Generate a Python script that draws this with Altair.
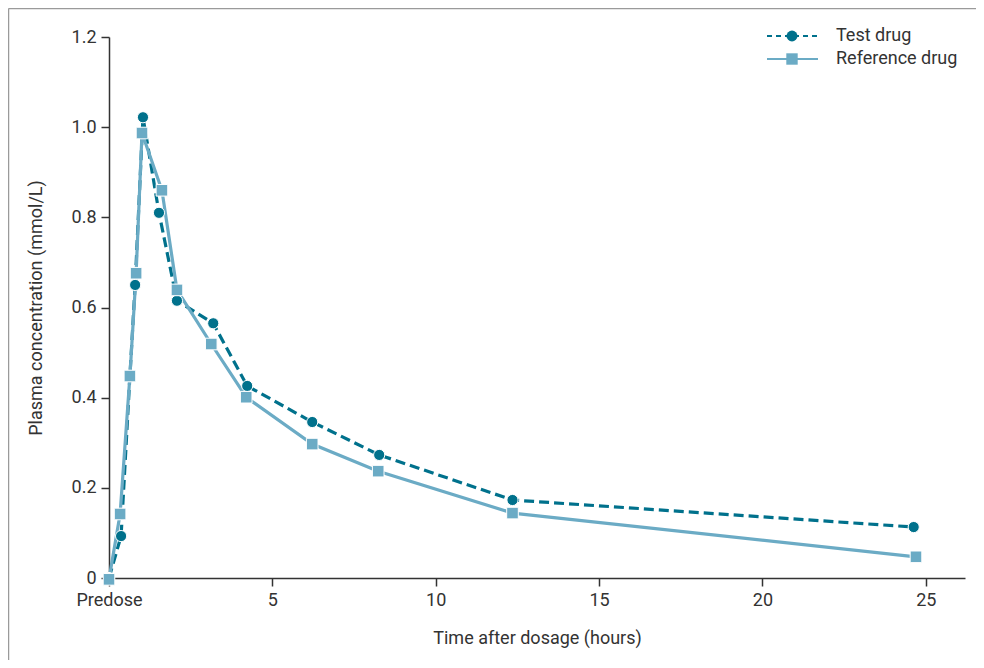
import altair as alt
import pandas as pd

# Test drug (circles, dashed)
test_time = [0.0, 0.37, 0.64, 0.80, 1.04, 1.53, 2.08, 3.19, 4.23, 6.22, 8.27, 12.35, 24.63]
test_conc = [0.0, 0.093, 0.448, 0.65, 1.022, 0.81, 0.615, 0.565, 0.426, 0.346, 0.273, 0.173, 0.113]
# Reference drug (squares, solid)
ref_time = [0.0, 0.34, 0.64, 0.83, 1.01, 1.62, 2.08, 3.13, 4.20, 6.22, 8.24, 12.35, 24.70]
ref_conc = [-0.003, 0.142, 0.448, 0.676, 0.987, 0.86, 0.639, 0.519, 0.401, 0.297, 0.237, 0.144, 0.047]

x_ticks = [0, 5, 10, 15, 20, 25]
y_ticks = [0, 0.2, 0.4, 0.6, 0.8, 1.0, 1.2]
series_names = ["Test drug", "Reference drug"]

DARK = "#00718C"
LIGHT = "#6BABC5"
TXT = "#333333"
FONT = "Roboto"
FS = 18

W, H = 856, 541
PAD_L, PAD_T, PAD_R, PAD_B = 101, 29, 11, 82

test_df = pd.DataFrame({"t": test_time, "c": test_conc})
ref_df = pd.DataFrame({"t": ref_time, "c": ref_conc})

xscale = alt.Scale(domain=[0, 26.2], nice=False, zero=False)
yscale = alt.Scale(domain=[0, 1.2], nice=False)

xaxis = alt.Axis(
    values=x_ticks,
    labelExpr="datum.value == 0 ? 'Predose' : datum.label",
    title="Time after dosage (hours)",
    grid=False,
    tickSize=8,
    labelPadding=5,
    labelFlush=False,
    titlePadding=20,
)
yaxis = alt.Axis(
    values=y_ticks,
    labelExpr="datum.value == 0 ? '0' : format(datum.value, '.1f')",
    title="Plasma concentration (mmol/L)",
    grid=False,
    tickSize=8,
    labelPadding=5,
    labelFlush=False,
    titlePadding=26,
)

base_x = alt.X("t:Q", scale=xscale, axis=xaxis)
base_y = alt.Y("c:Q", scale=yscale, axis=yaxis)

test_line = alt.Chart(test_df).mark_line(
    color=DARK, strokeWidth=3.2, strokeDash=[10, 5], clip=False
).encode(x=base_x, y=base_y)
test_pts = alt.Chart(test_df).mark_point(
    shape="circle", filled=True, color=DARK, size=125, stroke="white", strokeWidth=1, opacity=1
).encode(x="t:Q", y="c:Q")

ref_line = alt.Chart(ref_df).mark_line(
    color=LIGHT, strokeWidth=3.2, clip=False
).encode(x="t:Q", y="c:Q")
ref_pts = alt.Chart(ref_df).mark_point(
    shape="square", filled=True, color=LIGHT, size=135, stroke="white", strokeWidth=1, opacity=1
).encode(x="t:Q", y="c:Q")

# manual legend
leg_df = pd.DataFrame({"name": series_names})
lx0, lx1, lxm, ltx = 658, 709, 683, 727
ly = [-1, 22]

leg_line1 = alt.Chart(leg_df.iloc[[0]]).mark_rule(
    color=DARK, strokeWidth=2, strokeDash=[5, 4]
).encode(x=alt.value(lx0), x2=alt.value(lx1), y=alt.value(ly[0]))
leg_pt1 = alt.Chart(leg_df.iloc[[0]]).mark_point(
    shape="circle", filled=True, color=DARK, size=120, opacity=1
).encode(x=alt.value(lxm), y=alt.value(ly[0]))
leg_txt1 = alt.Chart(leg_df.iloc[[0]]).mark_text(
    align="left", baseline="middle", font=FONT, fontSize=FS, color=TXT
).encode(x=alt.value(ltx), y=alt.value(ly[0]), text="name:N")

leg_line2 = alt.Chart(leg_df.iloc[[1]]).mark_rule(
    color=LIGHT, strokeWidth=2
).encode(x=alt.value(lx0), x2=alt.value(lx1), y=alt.value(ly[1]))
leg_pt2 = alt.Chart(leg_df.iloc[[1]]).mark_point(
    shape="square", filled=True, color=LIGHT, size=130, opacity=1
).encode(x=alt.value(lxm), y=alt.value(ly[1]))
leg_txt2 = alt.Chart(leg_df.iloc[[1]]).mark_text(
    align="left", baseline="middle", font=FONT, fontSize=FS, color=TXT
).encode(x=alt.value(ltx), y=alt.value(ly[1]), text="name:N")

# frame (top and left edges)
frame_top = alt.Chart(leg_df.iloc[[0]]).mark_rule(color="#9a9a9a", strokeWidth=1.5).encode(
    x=alt.value(-100.5), x2=alt.value(W + PAD_R), y=alt.value(-28.5)
)
frame_left = alt.Chart(leg_df.iloc[[0]]).mark_rule(color="#9a9a9a", strokeWidth=1.5).encode(
    x=alt.value(-100.5), y=alt.value(-28.5), y2=alt.value(H + PAD_B)
)

chart = alt.layer(
    test_line, ref_line, test_pts, ref_pts,
    leg_line1, leg_pt1, leg_txt1, leg_line2, leg_pt2, leg_txt2,
    frame_top, frame_left,
).properties(
    width=W, height=H,
    background="white",
    padding={"left": PAD_L, "top": PAD_T, "right": PAD_R, "bottom": PAD_B},
    autosize=alt.AutoSizeParams(type="none"),
).configure_view(stroke=None).configure_axis(
    labelFont=FONT, titleFont=FONT, labelFontSize=FS, titleFontSize=FS,
    labelColor=TXT, titleColor=TXT, titleFontWeight="normal",
    domainColor=TXT, tickColor=TXT, domainWidth=1.5, tickWidth=1.5,
)

chart.save("out.html", embed_options={"renderer": "svg", "actions": False})
